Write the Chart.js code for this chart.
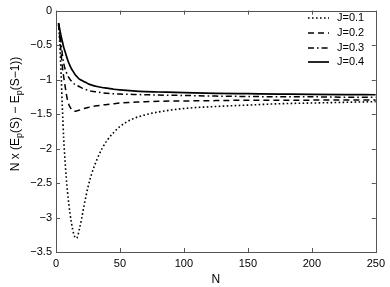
<!DOCTYPE html>
<html>
<head>
<meta charset="utf-8">
<script src="https://cdn.jsdelivr.net/npm/chart.js@4/dist/chart.umd.min.js"></script>
<style>
html,body{margin:0;padding:0;background:#fff;}
#wrap{width:390px;height:287px;position:relative;}
</style>
</head>
<body>
<div id="wrap"><canvas id="c" width="390" height="287"></canvas></div>
<script>
// N values (x)
const N = [2,3,4,5,6,7,8,9,10,11,12,13,14,15,16,17,18,20,22,25,28,32,36,40,45,50,60,70,80,100,125,150,175,200,225,250];
// J = 0.1 (dotted)
const J01 = [-0.20,-0.48,-0.92,-1.42,-1.85,-2.15,-2.42,-2.63,-2.80,-2.95,-3.07,-3.17,-3.25,-3.29,-3.30,-3.27,-3.19,-3.02,-2.82,-2.56,-2.36,-2.16,-2.00,-1.88,-1.77,-1.68,-1.57,-1.51,-1.47,-1.42,-1.39,-1.37,-1.35,-1.34,-1.33,-1.32];
// J = 0.2 (dashed)
const J02 = [-0.20,-0.40,-0.62,-0.82,-0.96,-1.08,-1.20,-1.30,-1.36,-1.40,-1.43,-1.45,-1.46,-1.46,-1.455,-1.45,-1.445,-1.43,-1.42,-1.405,-1.39,-1.38,-1.37,-1.36,-1.35,-1.34,-1.33,-1.32,-1.315,-1.31,-1.305,-1.30,-1.30,-1.298,-1.296,-1.295];
// J = 0.3 (dash-dot)
const J03 = [-0.18,-0.30,-0.48,-0.64,-0.76,-0.84,-0.89,-0.94,-0.97,-1.00,-1.02,-1.04,-1.06,-1.07,-1.08,-1.09,-1.10,-1.12,-1.135,-1.155,-1.17,-1.18,-1.19,-1.20,-1.205,-1.21,-1.215,-1.22,-1.225,-1.23,-1.24,-1.245,-1.25,-1.25,-1.255,-1.255];
// J = 0.4 (solid)
const J04 = [-0.18,-0.28,-0.37,-0.45,-0.53,-0.59,-0.65,-0.71,-0.76,-0.80,-0.84,-0.87,-0.90,-0.93,-0.95,-0.97,-0.99,-1.01,-1.03,-1.06,-1.08,-1.10,-1.115,-1.125,-1.14,-1.15,-1.165,-1.175,-1.18,-1.19,-1.20,-1.205,-1.21,-1.215,-1.218,-1.22];
const seriesLabels = ['J=0.1','J=0.2','J=0.3','J=0.4'];
const xTicks = [0,50,100,150,200,250];
const yTicks = [0,-0.5,-1,-1.5,-2,-2.5,-3,-3.5];

const styles = [
  {dash:[1.6,2.4], w:1.6},
  {dash:[6,4], w:1.5},
  {dash:[6,3,1.6,3], w:1.5},
  {dash:[], w:1.7}
];
const seriesData = [J01,J02,J03,J04];

const datasets = seriesData.map((arr,i)=>({
  label: seriesLabels[i],
  data: N.map((n,k)=>({x:n,y:arr[k]})),
  borderColor:'#000',
  borderWidth: styles[i].w,
  borderDash: styles[i].dash,
  pointRadius:0,
  fill:false,
  cubicInterpolationMode:'monotone'
}));

const FONT = 'Liberation Sans, Arial, Helvetica, sans-serif';
const fmt = v => (v<0 ? '\u2212' + String(Math.abs(v)) : String(v));

const framePlugin = {
  id:'frame',
  afterDatasetsDraw(chart){
    const {ctx, chartArea:a, scales:{x,y}} = chart;
    ctx.save();
    ctx.strokeStyle = '#555';
    ctx.lineWidth = 1;
    ctx.setLineDash([]);
    ctx.strokeRect(Math.round(a.left)+0.5, Math.round(a.top)+0.5, Math.round(a.right-a.left), Math.round(a.bottom-a.top));
    const L = 4;
    ctx.beginPath();
    xTicks.forEach(v=>{
      const px = Math.round(x.getPixelForValue(v))+0.5;
      ctx.moveTo(px,a.bottom); ctx.lineTo(px,a.bottom-L);
      ctx.moveTo(px,a.top); ctx.lineTo(px,a.top+L);
    });
    yTicks.forEach(v=>{
      const py = Math.round(y.getPixelForValue(v))+0.5;
      ctx.moveTo(a.left,py); ctx.lineTo(a.left+L,py);
      ctx.moveTo(a.right,py); ctx.lineTo(a.right-L,py);
    });
    ctx.stroke();

    // legend
    ctx.font = '11px ' + FONT;
    ctx.fillStyle = '#000';
    ctx.textBaseline = 'middle';
    ctx.textAlign = 'left';
    const rows = [18,33,48,62];
    seriesLabels.forEach((lab,i)=>{
      ctx.beginPath();
      ctx.strokeStyle = '#000';
      ctx.lineWidth = styles[i].w;
      ctx.setLineDash(styles[i].dash);
      ctx.moveTo(308, rows[i]); ctx.lineTo(329, rows[i]);
      ctx.stroke();
      ctx.setLineDash([]);
      ctx.fillText(lab, 337, rows[i]);
    });

    // y-axis title with subscripts
    ctx.translate(15, 114);
    ctx.rotate(-Math.PI/2);
    const parts = [
      ['N x (E',false],['p',true],['(S) \u2212 E',false],['p',true],['(S\u22121))',false]
    ];
    const big = '12px ' + FONT, small = '9px ' + FONT;
    let total = 0;
    parts.forEach(([t,s])=>{ ctx.font = s?small:big; total += ctx.measureText(t).width; });
    let cx = -total/2;
    ctx.textBaseline = 'alphabetic';
    parts.forEach(([t,s])=>{
      ctx.font = s?small:big;
      ctx.fillText(t, cx, s ? 7 : 4);
      cx += ctx.measureText(t).width;
    });
    ctx.restore();
  }
};

new Chart(document.getElementById('c'), {
  type:'line',
  data:{datasets},
  options:{
    responsive:false,
    animation:false,
    devicePixelRatio:1,
    layout:{padding:{top:8,right:12,left:0,bottom:0}},
    plugins:{legend:{display:false}, tooltip:{enabled:false}},
    scales:{
      x:{
        type:'linear', min:0, max:250,
        afterBuildTicks(s){ s.ticks = xTicks.map(v=>({value:v})); },
        afterFit(s){ s.height = 35; },
        grid:{display:false, drawTicks:false},
        border:{display:false},
        ticks:{color:'#000', font:{family:FONT,size:11}, padding:5, maxRotation:0},
        title:{display:true, text:'N', color:'#000', font:{family:FONT,size:12}, padding:{top:0,bottom:0}}
      },
      y:{
        type:'linear', min:-3.5, max:0,
        afterBuildTicks(s){ s.ticks = yTicks.map(v=>({value:v})); },
        afterFit(s){ s.width = 56; },
        grid:{display:false, drawTicks:false},
        border:{display:false},
        ticks:{color:'#000', font:{family:FONT,size:11}, padding:4, callback:v=>fmt(v)}
      }
    }
  },
  plugins:[framePlugin]
});
</script>
</body>
</html>
